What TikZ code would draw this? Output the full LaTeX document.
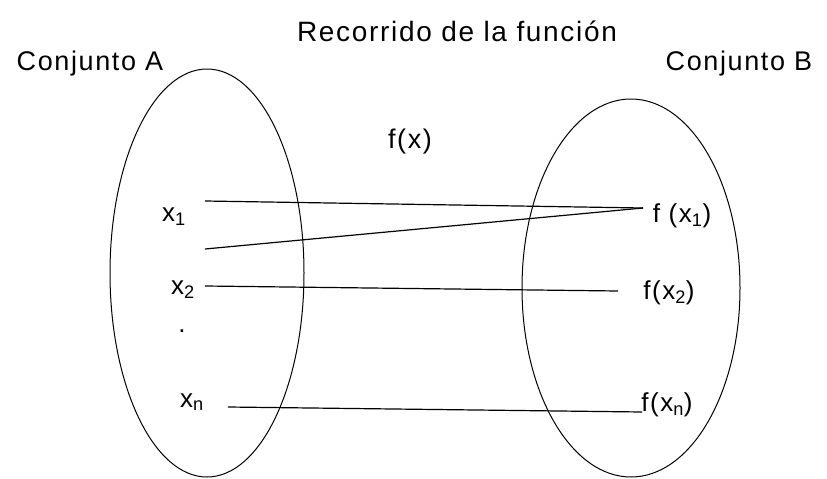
\documentclass[tikz,border=0pt]{standalone}
\usepackage{fontspec}
\setmainfont{Liberation Sans}[LetterSpace=6]
\usepackage{tikz}
\usetikzlibrary{positioning}

\begin{document}
\begin{tikzpicture}[
    x=1pt, y=-1pt,
    label/.style={
        inner sep=0pt,
        font=\fontsize{27}{32}\selectfont
    },
    elem/.style={
        inner sep=0pt,
        font=\fontsize{26}{30}\selectfont
    },
    set/.style={
        draw,
        line width=1pt
    },
    link/.style={
        line width=1.2pt
    }
]
\useasboundingbox (0,0) rectangle (827,479);

% Titles
\node[label, font=\fontsize{28}{32}\selectfont] (title) at (457,31) {Recorrido de la función};
\node[label] (setA) at (90,64) {Conjunto A};
\node[label] (setB) at (739,64) {Conjunto B};
\node[label] (fx) at (410,142) {f(x)};

% Sets
\draw[set] (207,273) ellipse [x radius=97, y radius=204];
\draw[set] (631,288) ellipse [x radius=109, y radius=189];

% Set A elements
\node[elem] (x1) at (174,217) {x\textsubscript{1}};
\node[elem] (x2) at (183,290) {x\textsubscript{2}};
\node[elem] (dots) at (182,331) {.};
\node[elem] (xn) at (192,402) {x\textsubscript{n}};

% Set B images
\node[elem] (fx1) at (682,216) {f (x\textsubscript{1})};
\node[elem] (fx2) at (669,293) {f(x\textsubscript{2})};
\node[elem] (fxn) at (667,405) {f(x\textsubscript{n})};

% Line ends
\coordinate (a1) at (205,201);
\coordinate (a2) at (205,249);
\coordinate (a3) at (205,286);
\coordinate (a4) at (228,407);
\coordinate (b1) at (643,208);
\coordinate (b2) at (618,291);
\coordinate (b4) at (642,412);

% Links
\draw[link] (a1) -- (b1);
\draw[link] (a2) -- (b1);
\draw[link] (a3) -- (b2);
\draw[link] (a4) -- (b4);

\end{tikzpicture}
\end{document}
